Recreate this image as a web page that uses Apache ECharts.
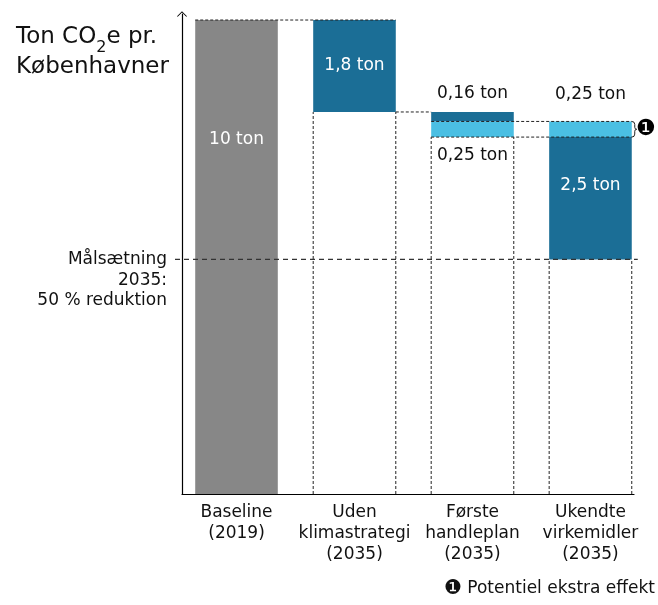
<!DOCTYPE html>
<html>
<head>
<meta charset="utf-8">
<script src="https://cdn.jsdelivr.net/npm/echarts@6/dist/echarts.min.js"></script>
<style>
  html, body { margin: 0; padding: 0; background: #fff; }
  #chart { width: 658px; height: 605px; }
</style>
</head>
<body>
<div id="chart"></div>
<script>
// x axis categories
const categories = ['Baseline\n(2019)', 'Uden\nklimastrategi\n(2035)', 'Første\nhandleplan\n(2035)', 'Ukendte\nvirkemidler\n(2035)'];

// waterfall segments, ton CO2e per inhabitant
const segCategory = [0, 1, 2, 2, 3, 3];
const segFrom = [0, 8.06, 7.86, 7.53, 7.53, 4.95];
const segTo = [10, 10, 8.06, 7.86, 7.86, 7.53];
const segType = ['baseline', 'cut', 'cut', 'extra', 'extra', 'cut'];
const segLabels = ['10 ton', '1,8 ton', '0,16 ton', '0,25 ton', '0,25 ton', '2,5 ton'];

// level left after each step, and the 2035 goal
const remaining = [10, 8.06, 7.53, 4.95];
const target = 4.95;
const targetLabel = 'Målsætning\n2035:\n50 % reduktion';
const footnote = 'Potentiel ekstra effekt';

const FONT = "'DejaVu Sans', sans-serif";
const BAR_W = 0.7;
const colors = { baseline: '#878787', cut: '#1b6e96', extra: '#4bbfe3' };

// where each label sits relative to its segment (px)
const labelLayout = [
    { pos: 'insideTop', dy: 120, color: '#fff' },
    { pos: 'insideTop', dy: 46, color: '#fff' },
    { pos: 'above', dy: 18, color: '#111' },
    { pos: 'below', dy: 18, color: '#111' },
    { pos: 'above', dy: 27, color: '#111' },
    { pos: 'insideTop', dy: 48, color: '#fff' }
];

const barData = segCategory.map((c, i) => [c + 1, segFrom[i], segTo[i]]);

function renderBar(params, api) {
    const i = params.dataIndex;
    const x = api.value(0);
    const top = api.coord([x, api.value(2)]);
    const bottom = api.coord([x, api.value(1)]);
    const w = api.size([BAR_W, 0])[0];
    const lay = labelLayout[i];
    let ty;
    if (lay.pos === 'insideTop') ty = top[1] + lay.dy;
    else if (lay.pos === 'above') ty = top[1] - lay.dy;
    else ty = bottom[1] + lay.dy;
    return {
        type: 'group',
        children: [
            {
                type: 'rect',
                shape: { x: top[0] - w / 2, y: top[1], width: w, height: bottom[1] - top[1] },
                style: { fill: colors[segType[i]] }
            },
            {
                type: 'text',
                x: top[0], y: ty,
                style: { text: segLabels[i], fill: lay.color, fontSize: 17, fontFamily: FONT, align: 'center', verticalAlign: 'middle' }
            }
        ]
    };
}

function renderGuides(params, api) {
    const h = BAR_W / 2;
    const c = (x, y) => api.coord([x, y]);
    const dash = { stroke: '#222', lineWidth: 1, lineDash: [3, 2], fill: null };
    const line = (a, b, style) => ({ type: 'line', shape: { x1: a[0], y1: a[1], x2: b[0], y2: b[1] }, style: style });
    const kids = [];

    // top of baseline carried over to the first step
    kids.push(line(c(1 - h, remaining[0]), c(2 + h, remaining[0]), dash));
    // dashed outline of what is left in each step
    for (let k = 1; k < remaining.length; k++) {
        kids.push(line(c(k + 1 - h, 0), c(k + 1 - h, remaining[k]), dash));
        kids.push(line(c(k + 1 + h, 0), c(k + 1 + h, remaining[k]), dash));
    }
    kids.push(line(c(2 + h, remaining[1]), c(3 - h, remaining[1]), dash));

    // bracket around the potential extra effect
    const bTop = c(4 + h, segTo[3]);
    const bBot = c(4 + h, segFrom[3]);
    kids.push(line(c(3 - h, segTo[3]), bTop, dash));
    kids.push(line(c(3 - h, segFrom[3]), bBot, dash));
    const bx = bTop[0], y1 = bTop[1], y2 = bBot[1], ym = (y1 + y2) / 2;
    kids.push({
        type: 'path',
        shape: {
            pathData: `M${bx},${y1} Q${bx + 3},${y1} ${bx + 3},${y1 + 3} L${bx + 3},${ym - 2} Q${bx + 3},${ym} ${bx + 5},${ym} Q${bx + 3},${ym} ${bx + 3},${ym + 2} L${bx + 3},${y2 - 3} Q${bx + 3},${y2} ${bx},${y2}`
        },
        style: { stroke: '#222', lineWidth: 1, fill: null }
    });
    kids.push({
        type: 'text', x: bx + 14, y: ym,
        style: { text: '❶', fontSize: 22, fontFamily: "'DejaVu Sans'", fill: '#000', align: 'center', verticalAlign: 'middle' }
    });

    // 2035 goal line and its label
    const t0 = c(0, target);
    const axisX = c(0.538, target)[0];
    const endX = c(4 + h, target)[0];
    kids.push(line([axisX - 7, t0[1]], [endX + 6, t0[1]], { stroke: '#333', lineWidth: 1.3, lineDash: [5, 4], fill: null }));
    kids.push({
        type: 'text', x: axisX - 15, y: t0[1] - 10,
        style: { text: targetLabel, fontSize: 17, lineHeight: 20.5, fontFamily: FONT, fill: '#111', align: 'right', verticalAlign: 'top' }
    });

    return { type: 'group', children: kids };
}

const chart = echarts.init(document.getElementById('chart'));
const option = {
    animation: false,
    grid: { left: 182, right: 24, top: 14, bottom: 111 },
    xAxis: {
        type: 'value',
        min: 0.538,
        max: 4.369,
        axisLine: { show: true, lineStyle: { color: '#000', width: 1.2 } },
        axisTick: { show: false },
        splitLine: { show: false },
        axisLabel: {
            customValues: [1, 2, 3, 4],
            formatter: v => categories[Math.round(v) - 1],
            fontSize: 17,
            lineHeight: 21,
            fontFamily: FONT,
            color: '#111',
            margin: 8
        }
    },
    yAxis: {
        type: 'value',
        min: 0,
        max: 10.127,
        axisLine: {
            show: true,
            lineStyle: { color: '#000', width: 1.2 },
            symbol: ['none', 'path://M0,12 L12,0 L24,12 L22.3,13.3 L12,3 L1.7,13.3 Z'],
            symbolSize: [10, 6]
        },
        axisTick: { show: false },
        axisLabel: { show: false },
        splitLine: { show: false }
    },
    graphic: [
        {
            type: 'text', left: 16, top: 18,
            style: {
                text: 'Ton CO{s|2}e pr.\n{b|Københavner}',
                fontSize: 23, fontFamily: FONT, fill: '#111', lineHeight: 30,
                rich: {
                    s: { fontSize: 16, fontFamily: FONT, lineHeight: 38, verticalAlign: 'bottom' },
                    b: { fontSize: 23, fontFamily: FONT, lineHeight: 22 }
                }
            }
        },
        {
            type: 'text', right: 3, top: 579,
            style: {
                text: '{n|❶} ' + footnote,
                fontSize: 17, fontFamily: FONT, fill: '#111',
                rich: { n: { fontSize: 20, fontFamily: FONT } }
            }
        }
    ],
    series: [
        {
            type: 'custom',
            name: 'segments',
            renderItem: renderBar,
            encode: { x: 0, y: [1, 2] },
            data: barData,
            z: 2
        },
        {
            type: 'custom',
            name: 'guides',
            renderItem: renderGuides,
            data: [[1, 5]],
            silent: true,
            z: 3
        }
    ]
};
chart.setOption(option);
window.addEventListener('resize', function () {
    chart.resize();
});
</script>
</body>
</html>
